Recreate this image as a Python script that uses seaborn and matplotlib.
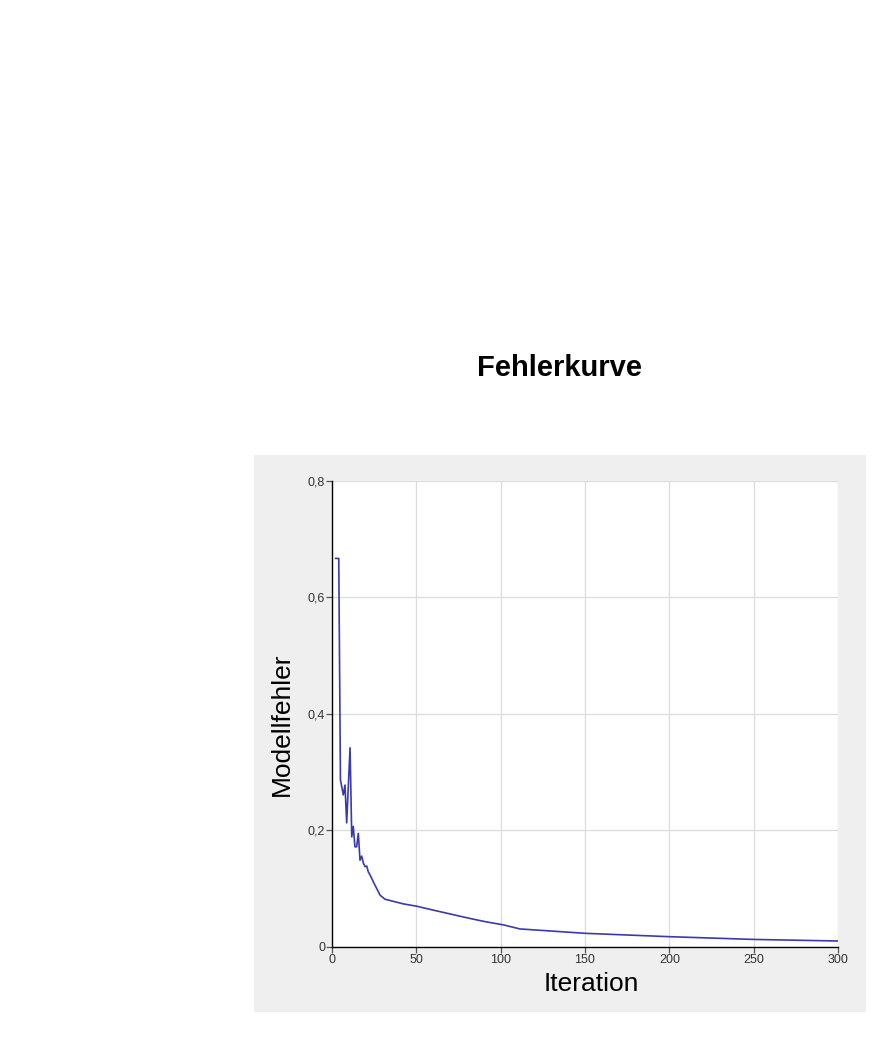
import matplotlib
matplotlib.use('Agg')
import pandas as pd
import seaborn as sns
from matplotlib import pyplot as plt
from matplotlib.patches import Rectangle
from matplotlib.ticker import FuncFormatter

ITERATIONS = [2, 4, 5, 6.7, 7.7, 8.7, 10.7, 11.7, 12.6, 13.6, 14.6, 15.6, 16.6, 17.6,
              18.6, 19.6, 20.6, 21.5, 22.5, 25.5, 28.5, 31.4, 42.3, 50.2, 62, 81.8,
              91.7, 101.6, 111.4, 150, 200, 250, 300]
ERRORS = [0.667, 0.667, 0.287, 0.261, 0.278, 0.213, 0.342, 0.189, 0.207, 0.172, 0.172,
          0.195, 0.149, 0.156, 0.144, 0.138, 0.139, 0.129, 0.124, 0.106, 0.089, 0.082,
          0.074, 0.070, 0.062, 0.049, 0.043, 0.038, 0.031, 0.0235, 0.0177, 0.013, 0.0103]

X_TICKS = [0, 50, 100, 150, 200, 250, 300]
Y_TICKS = [0, 0.2, 0.4, 0.6, 0.8]


def main():
    sns.set_style('white')
    plt.rcParams['font.family'] = ['Liberation Sans', 'DejaVu Sans']

    fig = plt.figure(figsize=(8.83, 10.41), dpi=100)

    # grey chart panel behind the axes
    panel = Rectangle((0.2877, 0.0279), 0.693, 0.535, transform=fig.transFigure,
                      facecolor='#efefef', edgecolor='none', zorder=-1)
    fig.add_artist(panel)

    ax = fig.add_axes([0.376, 0.0903, 0.573, 0.4477])
    ax.set_zorder(2)
    ax.set_facecolor('white')

    df = pd.DataFrame({'Iteration': ITERATIONS, 'Modellfehler': ERRORS})
    sns.lineplot(x='Iteration', y='Modellfehler', data=df, ax=ax,
                 color='#3a3aae', linewidth=1.2, zorder=3)

    ax.set_xlim(0, 300)
    ax.set_ylim(0, 0.8)
    ax.set_xticks(X_TICKS)
    ax.set_yticks(Y_TICKS)
    ax.yaxis.set_major_formatter(FuncFormatter(lambda v, p: ('%g' % v).replace('.', ',')))
    ax.grid(True, color='#dcdcdc', linewidth=0.9)

    for side in ('top', 'right'):
        ax.spines[side].set_visible(False)
    for side in ('left', 'bottom'):
        ax.spines[side].set_color('black')
        ax.spines[side].set_linewidth(1.0)

    ax.tick_params(axis='both', which='major', direction='out', length=4, width=0.9,
                   color='#555555', labelsize=9, labelcolor='#333333', pad=1,
                   left=True, bottom=True)

    ax.set_xlabel('Iteration', fontsize=19, color='black')
    ax.xaxis.set_label_coords(0.512, -0.054, transform=ax.transAxes)
    ax.xaxis.label.set_va('top')
    ax.set_ylabel('Modellfehler', fontsize=19, color='black')
    ax.yaxis.set_label_coords(-0.1, 0.479, transform=ax.transAxes)
    ax.yaxis.label.set_va('center')

    fig.text(0.634, 0.6465, 'Fehlerkurve', ha='center', va='center',
             fontsize=21, fontweight='bold', color='black')

    fig.savefig('out.png', dpi=100)


if __name__ == '__main__':
    main()
